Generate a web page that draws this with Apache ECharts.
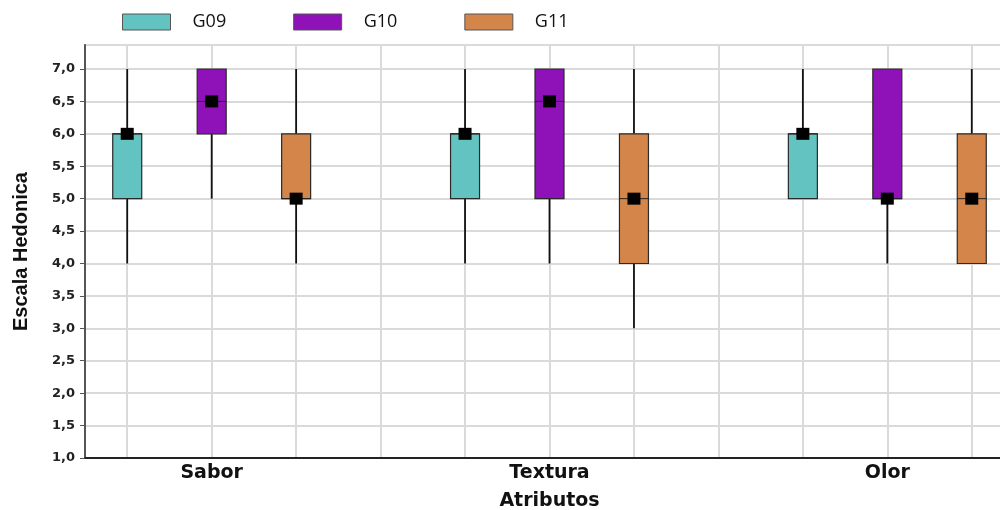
<!DOCTYPE html>
<html>
<head>
<meta charset="utf-8">
<script src="https://cdn.jsdelivr.net/npm/echarts@6/dist/echarts.min.js"></script>
<style>
html,body{margin:0;padding:0;background:#fff;overflow:hidden;width:1000px;height:510px;}
#chart{width:1014px;height:510px;}
</style>
</head>
<body>
<div id="chart"></div>
<script>
// ---- data ----
const attributes = ['Sabor', 'Textura', 'Olor'];
const groups = ['G09', 'G10', 'G11'];
const groupColors = ['#62C3C0', '#8E12B8', '#D4854A'];
// [min, Q1, median, Q3, max] per attribute (Sabor, Textura, Olor)
const g09 = [[4, 5, 6, 6, 7], [4, 5, 6, 6, 7], [5, 5, 6, 6, 7]];
const g10 = [[5, 6, 6.5, 7, 7], [4, 5, 6.5, 7, 7], [4, 5, 5, 7, 7]];
const g11 = [[4, 5, 5, 6, 7], [3, 4, 5, 6, 7], [4, 4, 5, 6, 7]];
const yTicks = [1.0, 1.5, 2.0, 2.5, 3.0, 3.5, 4.0, 4.5, 5.0, 5.5, 6.0, 6.5, 7.0];

const groupData = [g09, g10, g11];
// slot index: each attribute takes 3 slots + 1 separator slot
const slotOf = (a, g) => a * 4 + g;
const nSlots = attributes.length * 4 - 1; // 11
// half-slot category axis for grid lines and labels
const halfCats = [];
const halfLabels = {};
for (let h = 0; h <= nSlots * 2; h++) halfCats.push('h' + h);
attributes.forEach((a, i) => { halfLabels[2 * slotOf(i, 1) + 1] = a; });

const fmt = v => Number(v).toFixed(1).replace('.', ',');

const series = groups.map((name, gi) => ({
  name: name,
  type: 'custom',
  xAxisIndex: 1,
  yAxisIndex: 0,
  itemStyle: { color: groupColors[gi], borderColor: '#333', borderWidth: 1 },
  encode: { x: 0, y: [1, 2, 3, 4, 5] },
  data: groupData[gi].map((v, ai) => [slotOf(ai, gi)].concat(v)),
  renderItem: function (params, api) {
    const x = api.value(0);
    const pMin = api.coord([x, api.value(1)]);
    const pQ1 = api.coord([x, api.value(2)]);
    const pMed = api.coord([x, api.value(3)]);
    const pQ3 = api.coord([x, api.value(4)]);
    const pMax = api.coord([x, api.value(5)]);
    const w = 29;
    const cx = pQ1[0];
    return {
      type: 'group',
      children: [
        { type: 'line', shape: { x1: cx, y1: pMin[1], x2: cx, y2: pQ1[1] }, style: { stroke: '#111', lineWidth: 1.8 } },
        { type: 'line', shape: { x1: cx, y1: pQ3[1], x2: cx, y2: pMax[1] }, style: { stroke: '#111', lineWidth: 1.8 } },
        { type: 'rect', shape: { x: cx - w / 2, y: pQ3[1], width: w, height: pQ1[1] - pQ3[1] },
          style: { fill: groupColors[params.seriesIndex], stroke: '#2a2a2a', lineWidth: 1.2 } },
        { type: 'line', shape: { x1: cx - w / 2, y1: pMed[1], x2: cx + w / 2, y2: pMed[1] }, style: { stroke: '#222', lineWidth: 1 } }
      ]
    };
  }
}));

const medians = [];
groups.forEach((g, gi) => groupData[gi].forEach((v, ai) => medians.push([slotOf(ai, gi), v[2]])));
series.push({
  name: 'Mediana',
  type: 'scatter',
  xAxisIndex: 1,
  yAxisIndex: 0,
  symbol: 'rect',
  symbolSize: [13, 12],
  itemStyle: { color: '#000', opacity: 1 },
  z: 5,
  data: medians
});

const chart = echarts.init(document.getElementById('chart'), null, { renderer: 'canvas' });
chart.setOption({
  animation: false,
  backgroundColor: '#fff',
  legend: {
    data: groups,
    left: 122,
    top: 13,
    padding: 0,
    icon: 'rect',
    itemWidth: 48,
    itemHeight: 16,
    itemGap: 67,
    itemStyle: { borderColor: '#555', borderWidth: 1 },
    textStyle: { fontFamily: 'Open Sans', fontSize: 18, color: '#111', padding: [0, 0, 0, 17] }
  },
  grid: {
    left: 85, right: 0, top: 45, bottom: 52,
    outerBoundsMode: 'none',
    show: true, borderColor: '#777', borderWidth: 1.5, backgroundColor: '#fff'
  },
  xAxis: [
    {
      type: 'category',
      data: halfCats,
      boundaryGap: false,
      axisLine: { show: true, onZero: false, lineStyle: { color: '#222', width: 2 } },
      axisTick: { show: false },
      splitLine: { show: true, interval: (idx) => idx % 2 === 1, lineStyle: { color: '#dadada', width: 2 } },
      axisLabel: {
        interval: 0,
        margin: 6,
        formatter: (v, idx) => halfLabels[idx] || '',
        fontFamily: 'DejaVu Sans', fontWeight: 'bold', fontSize: 19, color: '#111'
      },
      name: 'Atributos',
      nameLocation: 'middle',
      nameGap: 34,
      nameTextStyle: { fontFamily: 'DejaVu Sans', fontWeight: 'bold', fontSize: 19, color: '#111' }
    },
    {
      type: 'value',
      min: -0.5,
      max: nSlots - 0.5,
      show: false,
      splitLine: { show: false }
    }
  ],
  yAxis: {
    type: 'value',
    min: yTicks[0],
    max: 7.37,
    interval: 0.5,
    axisLine: { show: true, onZero: false, lineStyle: { color: '#555', width: 2 } },
    axisTick: { show: true, length: 5, lineStyle: { color: '#555' } },
    splitLine: { show: true, lineStyle: { color: '#dadada', width: 2 } },
    axisLabel: {
      showMaxLabel: false,
      formatter: v => (yTicks.indexOf(v) >= 0 ? fmt(v) : ''),
      fontFamily: 'DejaVu Sans', fontWeight: 'bold', fontSize: 13, color: '#222', margin: 10
    },
    name: 'Escala Hedonica',
    nameLocation: 'middle',
    nameGap: 54,
    nameTextStyle: { fontFamily: 'Liberation Sans', fontWeight: 'bold', fontSize: 20, color: '#111' }
  },
  series: series
});
</script>
</body>
</html>
